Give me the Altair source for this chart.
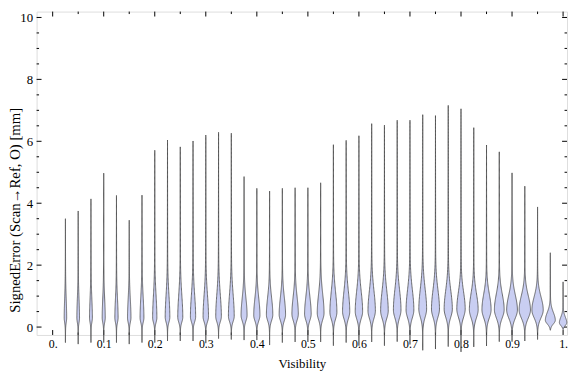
import altair as alt
import pandas as pd
import numpy as np

# ---- data ----
visibility = [0.025, 0.05, 0.075, 0.1, 0.125, 0.15, 0.175, 0.2, 0.225, 0.25,
              0.275, 0.3, 0.325, 0.35, 0.375, 0.4, 0.425, 0.45, 0.475, 0.5,
              0.525, 0.55, 0.575, 0.6, 0.625, 0.65, 0.675, 0.7, 0.725, 0.75,
              0.775, 0.8, 0.825, 0.85, 0.875, 0.9, 0.925, 0.95, 0.975, 1.0]
err_max = [3.50, 3.75, 4.14, 4.97, 4.25, 3.45, 4.26, 5.71, 6.04, 5.82,
           6.01, 6.20, 6.29, 6.26, 4.86, 4.48, 4.39, 4.48, 4.50, 4.50,
           4.66, 5.89, 6.03, 6.18, 6.57, 6.52, 6.68, 6.68, 6.86, 6.83,
           7.16, 7.05, 6.44, 5.88, 5.66, 4.98, 4.55, 3.88, 2.40, 1.46]
err_min = [-0.50, -0.55, -0.50, -0.50, -0.50, -0.55, -0.50, -0.50, -0.45, -0.45,
           -0.45, -0.52, -0.37, -0.40, -0.42, -0.42, -0.58, -0.50, -0.48, -0.48,
           -0.48, -0.60, -0.50, -0.60, -0.48, -0.60, -0.47, -0.56, -0.75, -0.71,
           -0.63, -0.80, -0.64, -0.61, -0.47, -0.47, -0.45, -0.40, -0.10, -0.08]
err_mode = [0.30, 0.30, 0.30, 0.30, 0.30, 0.30, 0.30, 0.30, 0.32, 0.32,
            0.33, 0.33, 0.34, 0.35, 0.38, 0.38, 0.40, 0.40, 0.42, 0.42,
            0.45, 0.48, 0.50, 0.50, 0.52, 0.52, 0.55, 0.55, 0.58, 0.58,
            0.58, 0.58, 0.56, 0.56, 0.56, 0.55, 0.55, 0.55, 0.22, 0.14]
half_width_px = [1.0, 1.1, 1.2, 1.3, 1.4, 1.5, 1.7, 1.9, 2.1, 2.3,
                 2.4, 2.5, 2.6, 2.7, 2.8, 2.9, 3.0, 3.0, 3.0, 3.1,
                 3.2, 3.3, 3.4, 3.5, 3.5, 3.6, 3.6, 3.7, 3.7, 3.8,
                 3.9, 4.0, 4.2, 4.4, 4.7, 5.2, 5.5, 5.5, 4.8, 3.5]
spread_down = [0.15, 0.15, 0.15, 0.15, 0.15, 0.15, 0.15, 0.15, 0.16, 0.16,
               0.16, 0.16, 0.17, 0.17, 0.18, 0.18, 0.19, 0.19, 0.20, 0.20,
               0.21, 0.22, 0.23, 0.23, 0.24, 0.24, 0.25, 0.25, 0.26, 0.26,
               0.26, 0.26, 0.26, 0.26, 0.26, 0.26, 0.26, 0.25, 0.12, 0.09]
spread_up = [0.60, 0.60, 0.60, 0.60, 0.60, 0.60, 0.65, 0.70, 0.70, 0.70,
             0.70, 0.70, 0.70, 0.70, 0.55, 0.55, 0.55, 0.55, 0.55, 0.55,
             0.60, 0.65, 0.65, 0.65, 0.65, 0.65, 0.65, 0.65, 0.65, 0.62,
             0.60, 0.55, 0.52, 0.50, 0.50, 0.48, 0.46, 0.42, 0.25, 0.18]

x_ticks = [0.0, 0.1, 0.2, 0.3, 0.4, 0.5, 0.6, 0.7, 0.8, 0.9, 1.0]
x_tick_labels = ["0.", "0.1", "0.2", "0.3", "0.4", "0.5", "0.6", "0.7", "0.8", "0.9", "1."]
y_ticks = [0, 2, 4, 6, 8, 10]
y_tick_labels = ["0", "2", "4", "6", "8", "10"]
x_minor = [0.05, 0.15, 0.25, 0.35, 0.45, 0.55, 0.65, 0.75, 0.85, 0.95]
y_minor = [0.5 * k for k in range(0, 21) if k % 4 != 0]

# ---- layout ----
W, H = 538, 328
X_DOMAIN = [-0.0315, 1.0077]
Y_DOMAIN = [-0.255, 10.19]
PX = (X_DOMAIN[1] - X_DOMAIN[0]) / W   # data units per pixel
FONT = "Liberation Serif"

rows = []
for k in range(len(visibility)):
    c, top, bot, m = visibility[k], err_max[k], err_min[k], err_mode[k]
    h, sd, su = half_width_px[k], spread_down[k], spread_up[k]
    ys = np.concatenate([np.linspace(bot, m, 40), np.linspace(m, top, 140)[1:]])
    for j, y in enumerate(ys):
        if y <= m:
            w = h * np.exp(-0.5 * ((y - m) / sd) ** 2) + 0.25 * (y - bot) / (m - bot)
        else:
            w = h * np.exp(-0.5 * ((y - m) / su) ** 2) + 0.25 * (top - y) / (top - m)
        rows.append({"v": k, "y": float(y), "lo": c - w * PX, "hi": c + w * PX})
violins = pd.DataFrame(rows)

xs = alt.Scale(domain=X_DOMAIN, nice=False, zero=False)
ys_ = alt.Scale(domain=Y_DOMAIN, nice=False, zero=False)

label_map = "[" + ",".join("'%s'" % s for s in x_tick_labels) + "][round(datum.value*10)]"
ylabel_map = "[" + ",".join("'%s'" % s for s in y_tick_labels) + "][round(datum.value/2)]"

y_axis = alt.Axis(
    values=y_ticks, labelExpr=ylabel_map, ticks=False, tickSize=0, domain=False, grid=False,
    labelFont=FONT, labelFontSize=13, labelPadding=4, labelColor="black",
    title="SignedError (Scan\u2192Ref, O) [mm]", titleFont=FONT, titleFontSize=15,
    titleFontWeight="normal", titleColor="black", titleX=-29, titleY=201,
    titleBaseline="top", titleAlign="center", titleAngle=270)
x_axis = alt.Axis(
    values=x_ticks, labelExpr=label_map, ticks=False, tickSize=0, domain=False, grid=False,
    labelFont=FONT, labelFontSize=12, labelPadding=4, labelColor="black",
    labelFlush=False, labelOverlap=False,
    title="Visibility", titleFont=FONT, titleFontSize=13, titleFontWeight="normal",
    titleColor="black", titleY=23, titleBaseline="top")

violin_layer = alt.Chart(violins).mark_area(
    orient="horizontal", fill="#c9cef2", fillOpacity=1, stroke="#4a4a4a",
    strokeWidth=0.8, strokeJoin="round", interpolate="linear"
).encode(
    y=alt.Y("y:Q", scale=ys_, axis=y_axis),
    x=alt.X("lo:Q", scale=xs, axis=x_axis, stack=None),
    x2="hi:Q",
    detail="v:N",
)

def yrules(vals, x1, x2):
    return alt.Chart(pd.DataFrame({"t": vals})).mark_rule(color="black", strokeWidth=1).encode(
        y=alt.Y("t:Q", scale=ys_, axis=y_axis), x=alt.value(x1), x2=alt.value(x2))

def xrules(vals, y1, y2):
    return alt.Chart(pd.DataFrame({"t": vals})).mark_rule(color="black", strokeWidth=1).encode(
        x=alt.X("t:Q", scale=xs, axis=x_axis), y=alt.value(y1), y2=alt.value(y2))

MAJ, MIN = 5, 2.5
ticks = [
    yrules(y_ticks, 0, MAJ), yrules(y_minor, 0, MIN),
    yrules(y_ticks, W, W - MAJ), yrules(y_minor, W, W - MIN),
    xrules(x_ticks, H, H - MAJ), xrules(x_minor, H, H - MIN),
    xrules(x_ticks, 0, MAJ), xrules(x_minor, 0, MIN),
]

chart = alt.layer(*ticks, violin_layer).properties(
    width=W, height=H,
    autosize=alt.AutoSizeParams(type="none"),
    padding={"left": 29, "top": 1, "right": 1, "bottom": 40},
).configure_view(stroke="#111", strokeWidth=1).configure(background="white")

chart.save("out.html", embed_options={"renderer": "svg", "actions": False})
